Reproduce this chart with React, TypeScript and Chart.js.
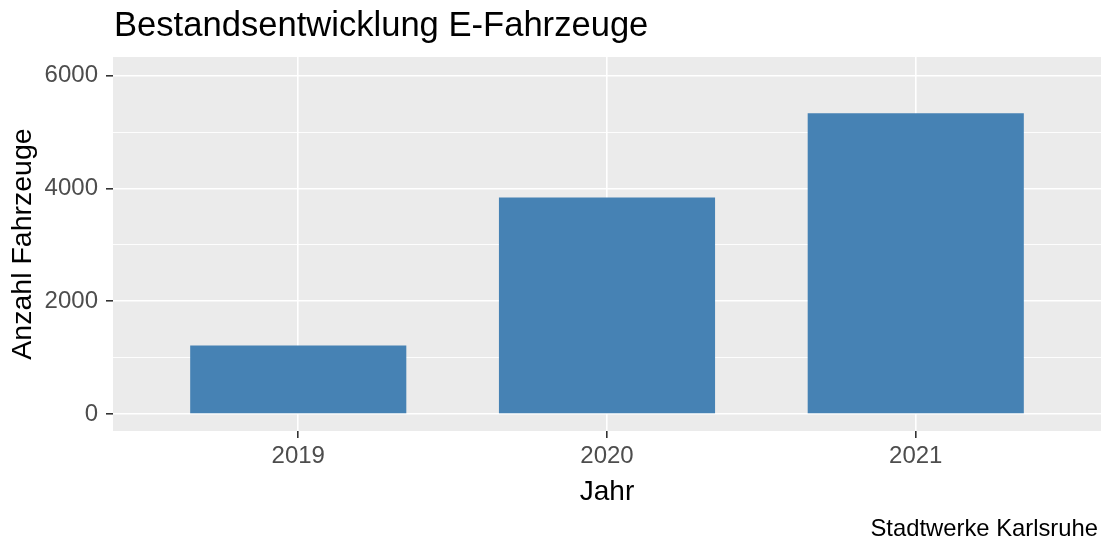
import React, { useEffect, useRef } from "react";
import { Chart, registerables } from "chart.js";

Chart.register(...registerables);

const titleText = "Bestandsentwicklung E-Fahrzeuge";
const captionText = "Stadtwerke Karlsruhe";
const xTitle = "Jahr";
const yTitle = "Anzahl Fahrzeuge";
const categories = ["2019", "2020", "2021"];
const vehicles = [1216, 3838, 5333];
const yGridValues = [0, 1000, 2000, 3000, 4000, 5000, 6000];
const yLabelValues = [0, 2000, 4000, 6000];

const FONT = '"Liberation Sans", Arial, sans-serif';

const panelPlugin = {
  id: "ggPanel",
  beforeDraw(chart: any) {
    const { ctx, chartArea } = chart;
    ctx.save();
    ctx.fillStyle = "#EBEBEB";
    ctx.fillRect(chartArea.left, chartArea.top, chartArea.right - chartArea.left, chartArea.bottom - chartArea.top);
    ctx.restore();
  },
  afterDraw(chart: any) {
    const { ctx, chartArea } = chart;
    ctx.save();
    ctx.fillStyle = "#000000";
    ctx.textBaseline = "alphabetic";
    ctx.font = `34.6px ${FONT}`;
    ctx.textAlign = "left";
    ctx.fillText(titleText, chartArea.left + 1, 36);
    ctx.font = `23.8px ${FONT}`;
    ctx.textAlign = "right";
    ctx.fillText(captionText, chartArea.right - 3, 536);
    ctx.restore();
  },
};

export default function App() {
  const canvasRef = useRef<HTMLCanvasElement | null>(null);

  useEffect(() => {
    if (!canvasRef.current) return;
    const isMajor = (v: number) => yLabelValues.includes(v);
    const chart = new Chart(canvasRef.current, {
      type: "bar",
      data: {
        datasets: [
          {
            data: vehicles.map((v, i) => ({ x: i + 1, y: v })),
            backgroundColor: "#4682B4",
            borderWidth: 0,
            barPercentage: 0.7,
            categoryPercentage: 1,
          },
        ],
      },
      plugins: [panelPlugin],
      options: {
        animation: false,
        responsive: false,
        events: [],
        layout: { padding: { top: 57, right: 2, bottom: 31, left: 0 } },
        plugins: {
          legend: { display: false },
          title: { display: false },
          tooltip: { enabled: false },
        },
        scales: {
          x: {
            type: "linear",
            min: 0.4,
            max: 3.6,
            offset: false,
            afterBuildTicks: (scale: any) => {
              scale.ticks = categories.map((_, i) => ({ value: i + 1 }));
            },
            afterFit: (scale: any) => {
              scale.height = 78;
            },
            border: { display: false },
            grid: {
              offset: false,
              color: "#FFFFFF",
              lineWidth: 1.6,
              drawTicks: true,
              tickLength: 7,
              tickColor: "#333333",
              tickWidth: 1.6,
            },
            ticks: {
              autoSkip: false,
              maxRotation: 0,
              padding: 4,
              color: "#4D4D4D",
              font: { family: FONT, size: 24 },
              callback: (v: any) => categories[Math.round(Number(v)) - 1] ?? "",
            },
            title: {
              display: true,
              text: xTitle,
              color: "#000000",
              font: { family: FONT, size: 28 },
              padding: { top: 2, bottom: 0 },
            },
          },
          y: {
            type: "linear",
            min: -300,
            max: 6330,
            afterBuildTicks: (scale: any) => {
              scale.ticks = yGridValues.map((v) => ({ value: v }));
            },
            afterFit: (scale: any) => {
              scale.width = 113;
            },
            border: { display: false },
            grid: {
              color: "#FFFFFF",
              lineWidth: (c: any) => (c.tick && isMajor(c.tick.value) ? 1.6 : 0.9),
              drawTicks: true,
              tickLength: 7,
              tickColor: (c: any) => (c.tick && isMajor(c.tick.value) ? "#333333" : "rgba(0,0,0,0)"),
              tickWidth: 1.6,
            },
            ticks: {
              autoSkip: false,
              padding: 8,
              color: "#4D4D4D",
              font: { family: FONT, size: 24 },
              callback: (v: any) => (isMajor(Number(v)) ? String(v) : ""),
            },
            title: {
              display: true,
              text: yTitle,
              color: "#000000",
              font: { family: FONT, size: 28.5 },
              padding: { top: 6, bottom: 0 },
            },
          },
        },
      },
    } as any);
    return () => chart.destroy();
  }, []);

  return (
    <div style={{ position: "absolute", left: 0, top: 0, width: 1103, height: 540, background: "#FFFFFF" }}>
      <canvas ref={canvasRef} width={1103} height={540} style={{ width: 1103, height: 540, display: "block" }} />
    </div>
  );
}
